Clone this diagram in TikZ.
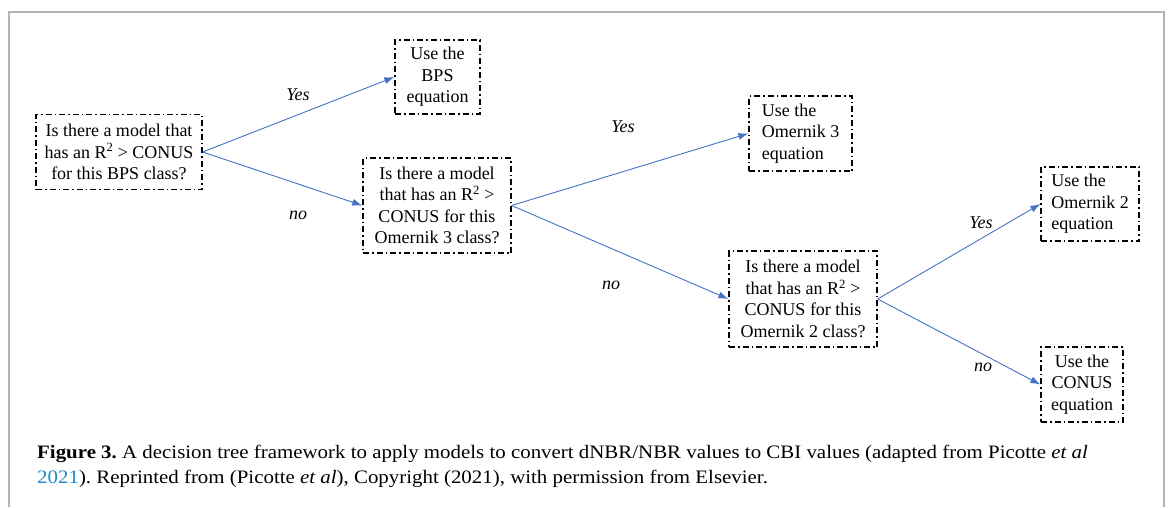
\documentclass[tikz,border=0pt]{standalone}
\usepackage{fontspec}
\setmainfont{Liberation Serif}
\newfontfamily\capfont{Liberation Serif}[FakeStretch=1.1]
\usetikzlibrary{arrows.meta}
\definecolor{arrblue}{HTML}{4472C4}
\definecolor{linkblue}{HTML}{1E88C8}
\definecolor{framegray}{HTML}{B4B4B4}
\tikzset{
  qbox/.style={draw, line width=1.3pt, dash pattern=on 6pt off 3pt on 1.5pt off 3pt,
    inner sep=0pt, align=center, font=\fontsize{18}{21.5}\selectfont},
  yesno/.style={font=\fontsize{18}{21}\selectfont\itshape},
  arr/.style={arrblue, line width=0.9pt, -{Latex[length=10pt,width=7pt]}},
  captext/.style={anchor=base west, inner sep=0pt, font=\capfont\fontsize{19}{25}\selectfont\frenchspacing}
}
\begin{document}
\begin{tikzpicture}[x=1pt,y=-1pt]
\useasboundingbox (0,0) rectangle (1171,507);
\draw[framegray, line width=1.2pt] (9,507)--(9,12)--(1164,12)--(1164,507); % рамка

% узлы
\node[qbox, minimum width=166pt, minimum height=75pt] (root) at (119,152) {Is there a model that\\has an R\textsuperscript{2} > CONUS\\for this BPS class?};
\node[qbox, minimum width=85pt, minimum height=74pt] (bps) at (437.5,77) {Use the\\BPS\\equation};
\node[qbox, minimum width=148pt, minimum height=95pt] (omthree) at (437,205.5) {Is there a model\\that has an R\textsuperscript{2} >\\CONUS for this\\Omernik 3 class?};
\node[qbox, minimum width=103pt, minimum height=75pt, align=left] (omthreeuse) at (800.5,133.5) {Use the\\Omernik 3\\equation};
\node[qbox, minimum width=148pt, minimum height=96pt] (omtwo) at (803,299) {Is there a model\\that has an R\textsuperscript{2} >\\CONUS for this\\Omernik 2 class?};
\node[qbox, minimum width=98pt, minimum height=74pt, align=left] (omtwouse) at (1090,204) {Use the\\Omernik 2\\equation};
\node[qbox, minimum width=82pt, minimum height=75pt] (conus) at (1082,384.5) {Use the\\CONUS\\equation};

% стрелки
\draw[arr] (root.east) -- (bps.west);
\draw[arr] (root.east) -- (omthree.west);
\draw[arr] (omthree.east) -- (omthreeuse.west);
\draw[arr] (omthree.east) -- (omtwo.west);
\draw[arr] (omtwo.east) -- (omtwouse.west);
\draw[arr] (omtwo.east) -- (conus.west);

% подписи
\node[yesno] (y1) at (298,95) {Yes};
\node[yesno] (n1) at (298,215) {no};
\node[yesno] (y2) at (623,127) {Yes};
\node[yesno] (n2) at (611,285) {no};
\node[yesno] (y3) at (981,223) {Yes};
\node[yesno] (n3) at (983,367) {no};

% подпись к рисунку
\node[captext] (cap1) at (37,458) {\textbf{Figure 3.} A decision tree framework to apply models to convert dNBR/NBR values to CBI values (adapted from Picotte \textit{et al}};
\node[captext] (cap2) at (37,483) {\textcolor{linkblue}{2021}). Reprinted from (Picotte \textit{et al}), Copyright (2021), with permission from Elsevier.};
\end{tikzpicture}
\end{document}
